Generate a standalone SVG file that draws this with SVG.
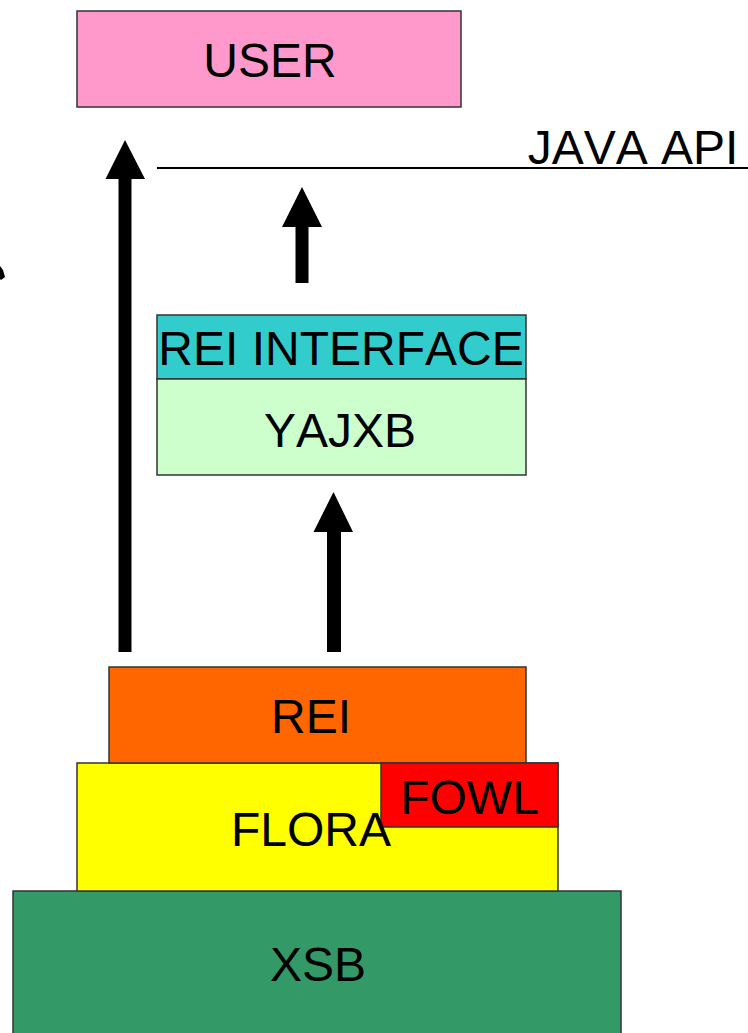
<svg xmlns="http://www.w3.org/2000/svg" width="748" height="1033" viewBox="0 0 748 1033">
<style>
.box{stroke:#333;stroke-width:1.5}
.t{font-family:"Liberation Sans",Arial,sans-serif;font-size:48px;fill:#000;text-anchor:middle;font-kerning:none}
.arr{fill:#000}
</style>
<rect width="748" height="1033" fill="#fff"/>
<g id="connectors">
<polygon class="arr" points="118.5,652 131.5,652 131.5,179 145,179 125,140 105.5,179 118.5,179"/>
<polygon class="arr" points="295.5,283 308.5,283 308.5,227 322,227 302,187 282,227 295.5,227"/>
<polygon class="arr" points="327,652 341,652 341,532 353,532 333.5,492 313.5,532 327,532"/>
<line x1="157" y1="168" x2="748" y2="168" stroke="#000" stroke-width="2"/>
<polygon class="arr" points="0,266 3,270 5,277 1,280 0,279"/>
</g>
<g id="java-api"><text class="t" x="633" y="164">JAVA API</text></g>
<g id="user"><rect class="box" x="77" y="11" width="384" height="96" fill="#ff99cc"/><text class="t" x="270" y="77">USER</text></g>
<g id="rei-interface"><rect class="box" x="157" y="315" width="369" height="64" fill="#33cccc"/><text class="t" x="341" y="365">REI INTERFACE</text></g>
<g id="yajxb"><rect class="box" x="157" y="379" width="369" height="96" fill="#ccffcc"/><text class="t" x="340" y="447">YAJXB</text></g>
<g id="xsb"><rect class="box" x="13" y="891" width="608" height="150" fill="#339966"/><text class="t" x="318" y="981">XSB</text></g>
<g id="flora"><rect class="box" x="77" y="763" width="481" height="128" fill="#ffff00"/></g>
<g id="rei"><rect class="box" x="109" y="667" width="417" height="96" fill="#ff6600"/><text class="t" x="311" y="733">REI</text></g>
<g id="fowl"><rect class="box" x="381" y="763" width="177" height="64" fill="#ff0000"/><text class="t" x="469.5" y="814">FOWL</text></g>
<text class="t" x="311" y="846">FLORA</text>
</svg>
